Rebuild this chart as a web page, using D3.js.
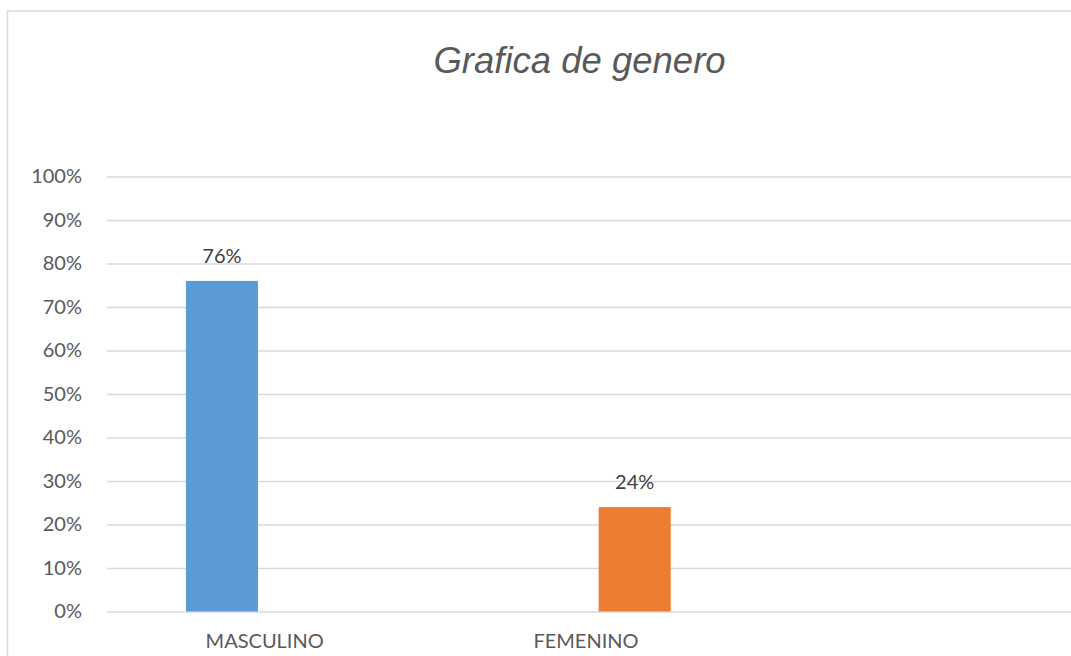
<!DOCTYPE html>
<html>
<head>
<meta charset="utf-8">
<script src="https://cdn.jsdelivr.net/npm/d3@7"></script>
<style>
  html, body { margin: 0; padding: 0; background: #fff; }
  svg { display: block; }
</style>
</head>
<body>
<svg id="chart" width="1071" height="656"></svg>
<script>
// ---- data ----
const title = "Grafica de genero";
const categories = ["MASCULINO", "FEMENINO", ""];
const seriesNames = ["Serie1", "Serie2"];
const serie1 = [0.76, null, null];
const serie2 = [null, 0.24, null];
const yTicks = [0, 0.1, 0.2, 0.3, 0.4, 0.5, 0.6, 0.7, 0.8, 0.9, 1.0];
const colors = ["#5B9BD5", "#ED7D31"];

// ---- layout ----
const W = 1071, H = 656;
const plot = { left: 107, right: 1071, top: 176.5, bottom: 611.5 };
const svg = d3.select("#chart");

// chart border
svg.append("rect")
  .attr("x", 7.5).attr("y", 11)
  .attr("width", W + 10).attr("height", H + 10)
  .attr("fill", "#fff").attr("stroke", "#D9D9D9").attr("stroke-width", 1.5);

// scales
const y = d3.scaleLinear().domain([0, 1]).range([plot.bottom, plot.top]);
const x0 = d3.scaleBand().domain(categories).range([plot.left, plot.right]).padding(0);
const B = x0.bandwidth();
const x1 = d3.scaleBand().domain(seriesNames)
  .range([B / 2 - 91.4, B / 2 + 91.4])
  .paddingInner(0.212).paddingOuter(0.106);

// gridlines
const yAxis = d3.axisLeft(y).tickValues(yTicks)
  .tickSize(-(plot.right - plot.left))
  .tickFormat(d3.format(".0%"))
  .tickPadding(25);
const gy = svg.append("g").attr("transform", `translate(${plot.left},0)`).call(yAxis);
gy.select(".domain").remove();
gy.selectAll(".tick line").attr("stroke", "#D9D9D9").attr("stroke-width", 1.5);
gy.selectAll(".tick text")
  .attr("fill", "#595959")
  .style("font-family", "Lato, 'Open Sans', sans-serif")
  .style("font-size", "20px");

// bars
const data = [];
categories.forEach((c, i) => {
  [serie1, serie2].forEach((s, j) => {
    if (s[i] != null) data.push({ cat: c, series: seriesNames[j], value: s[i], color: colors[j] });
  });
});

const bars = svg.append("g");
bars.selectAll("rect").data(data).join("rect")
  .attr("x", d => x0(d.cat) + x1(d.series))
  .attr("y", d => y(d.value))
  .attr("width", x1.bandwidth())
  .attr("height", d => y(0) - y(d.value))
  .attr("fill", d => d.color);

// data labels
svg.append("g").selectAll("text").data(data).join("text")
  .attr("x", d => x0(d.cat) + x1(d.series) + x1.bandwidth() / 2)
  .attr("y", d => y(d.value) - 18)
  .attr("text-anchor", "middle")
  .attr("fill", "#404040")
  .style("font-family", "Lato, 'Open Sans', sans-serif")
  .style("font-size", "20px")
  .text(d => d3.format(".0%")(d.value));

// x axis labels
const xAxis = d3.axisBottom(x0).tickSize(0).tickPadding(22);
const gx = svg.append("g").attr("transform", `translate(-3,${plot.bottom})`).call(xAxis);
gx.select(".domain").remove();
gx.selectAll(".tick text")
  .attr("fill", "#595959")
  .style("font-family", "Lato, 'Open Sans', sans-serif")
  .style("font-size", "20px");

// title
svg.append("text")
  .attr("x", 579.5).attr("y", 73)
  .attr("text-anchor", "middle")
  .attr("fill", "#595959")
  .style("font-family", "'Liberation Sans', Arial, sans-serif")
  .style("font-style", "italic")
  .style("font-size", "36.5px")
  .text(title);
</script>
</body>
</html>
